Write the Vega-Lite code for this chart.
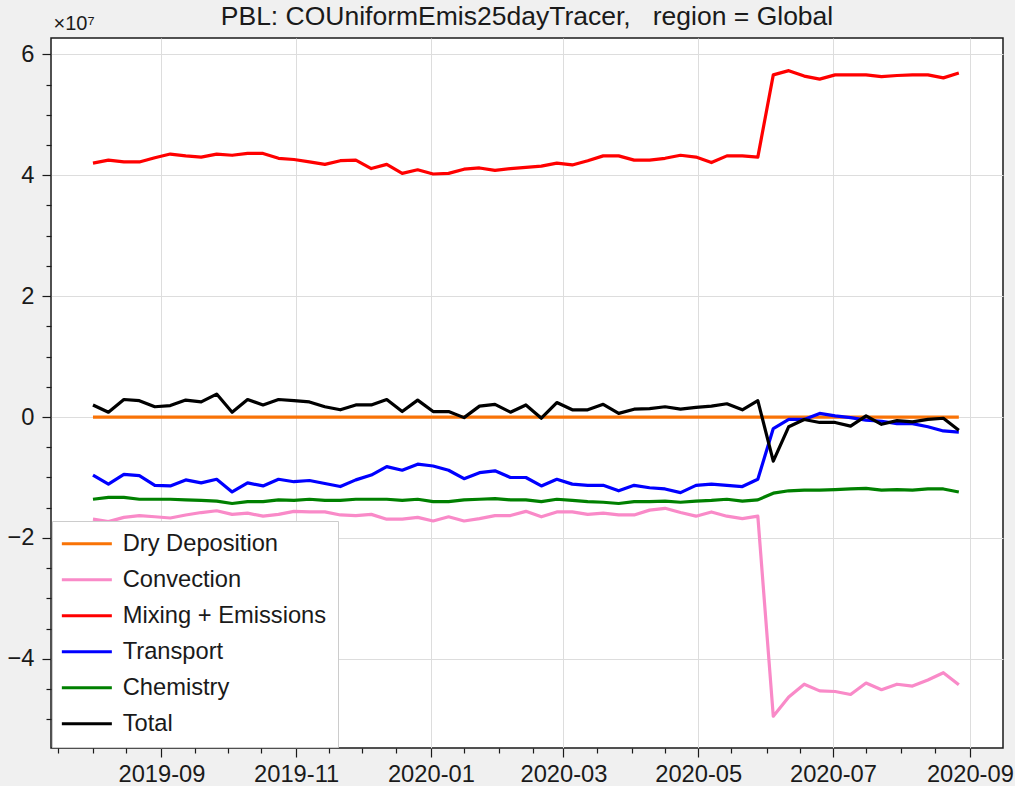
{
  "$schema": "https://vega.github.io/schema/vega-lite/v6.json",
  "width": 952,
  "height": 710,
  "autosize": {"type": "none"},
  "padding": {"left": 51, "top": 38, "right": 12, "bottom": 38},
  "background": "#f0f0f0",
  "title": {
    "text": "PBL: COUniformEmis25dayTracer,\u00a0\u00a0\u00a0region = Global",
    "font": "Liberation Sans",
    "fontSize": 26.5,
    "fontWeight": "normal",
    "color": "#1a1a1a",
    "anchor": "middle",
    "offset": 8,
    "dy": 25
  },
  "data": {
    "values": [
      {"date": "2019-08-01", "Dry Deposition": 0, "Convection": -1.69e7, "Mixing + Emissions": 4.20e7, "Transport": -0.96e7, "Chemistry": -1.36e7, "Total": 0.20e7},
      {"date": "2019-08-08", "Dry Deposition": 0, "Convection": -1.73e7, "Mixing + Emissions": 4.25e7, "Transport": -1.11e7, "Chemistry": -1.33e7, "Total": 0.08e7},
      {"date": "2019-08-15", "Dry Deposition": 0, "Convection": -1.66e7, "Mixing + Emissions": 4.22e7, "Transport": -0.95e7, "Chemistry": -1.33e7, "Total": 0.29e7},
      {"date": "2019-08-22", "Dry Deposition": 0, "Convection": -1.63e7, "Mixing + Emissions": 4.22e7, "Transport": -0.97e7, "Chemistry": -1.36e7, "Total": 0.27e7},
      {"date": "2019-08-29", "Dry Deposition": 0, "Convection": -1.65e7, "Mixing + Emissions": 4.29e7, "Transport": -1.13e7, "Chemistry": -1.36e7, "Total": 0.17e7},
      {"date": "2019-09-05", "Dry Deposition": 0, "Convection": -1.67e7, "Mixing + Emissions": 4.35e7, "Transport": -1.14e7, "Chemistry": -1.36e7, "Total": 0.19e7},
      {"date": "2019-09-12", "Dry Deposition": 0, "Convection": -1.62e7, "Mixing + Emissions": 4.32e7, "Transport": -1.04e7, "Chemistry": -1.37e7, "Total": 0.28e7},
      {"date": "2019-09-19", "Dry Deposition": 0, "Convection": -1.58e7, "Mixing + Emissions": 4.30e7, "Transport": -1.09e7, "Chemistry": -1.38e7, "Total": 0.25e7},
      {"date": "2019-09-26", "Dry Deposition": 0, "Convection": -1.55e7, "Mixing + Emissions": 4.35e7, "Transport": -1.03e7, "Chemistry": -1.39e7, "Total": 0.38e7},
      {"date": "2019-10-03", "Dry Deposition": 0, "Convection": -1.61e7, "Mixing + Emissions": 4.33e7, "Transport": -1.24e7, "Chemistry": -1.43e7, "Total": 0.08e7},
      {"date": "2019-10-10", "Dry Deposition": 0, "Convection": -1.59e7, "Mixing + Emissions": 4.36e7, "Transport": -1.09e7, "Chemistry": -1.40e7, "Total": 0.29e7},
      {"date": "2019-10-17", "Dry Deposition": 0, "Convection": -1.64e7, "Mixing + Emissions": 4.36e7, "Transport": -1.14e7, "Chemistry": -1.40e7, "Total": 0.20e7},
      {"date": "2019-10-24", "Dry Deposition": 0, "Convection": -1.61e7, "Mixing + Emissions": 4.28e7, "Transport": -1.03e7, "Chemistry": -1.37e7, "Total": 0.29e7},
      {"date": "2019-10-31", "Dry Deposition": 0, "Convection": -1.56e7, "Mixing + Emissions": 4.26e7, "Transport": -1.07e7, "Chemistry": -1.38e7, "Total": 0.27e7},
      {"date": "2019-11-07", "Dry Deposition": 0, "Convection": -1.57e7, "Mixing + Emissions": 4.22e7, "Transport": -1.05e7, "Chemistry": -1.36e7, "Total": 0.25e7},
      {"date": "2019-11-14", "Dry Deposition": 0, "Convection": -1.57e7, "Mixing + Emissions": 4.18e7, "Transport": -1.10e7, "Chemistry": -1.38e7, "Total": 0.17e7},
      {"date": "2019-11-21", "Dry Deposition": 0, "Convection": -1.62e7, "Mixing + Emissions": 4.24e7, "Transport": -1.15e7, "Chemistry": -1.38e7, "Total": 0.12e7},
      {"date": "2019-11-28", "Dry Deposition": 0, "Convection": -1.63e7, "Mixing + Emissions": 4.25e7, "Transport": -1.04e7, "Chemistry": -1.36e7, "Total": 0.20e7},
      {"date": "2019-12-05", "Dry Deposition": 0, "Convection": -1.61e7, "Mixing + Emissions": 4.11e7, "Transport": -0.96e7, "Chemistry": -1.36e7, "Total": 0.20e7},
      {"date": "2019-12-12", "Dry Deposition": 0, "Convection": -1.69e7, "Mixing + Emissions": 4.18e7, "Transport": -0.82e7, "Chemistry": -1.36e7, "Total": 0.29e7},
      {"date": "2019-12-19", "Dry Deposition": 0, "Convection": -1.69e7, "Mixing + Emissions": 4.03e7, "Transport": -0.88e7, "Chemistry": -1.38e7, "Total": 0.09e7},
      {"date": "2019-12-26", "Dry Deposition": 0, "Convection": -1.66e7, "Mixing + Emissions": 4.09e7, "Transport": -0.78e7, "Chemistry": -1.36e7, "Total": 0.28e7},
      {"date": "2020-01-02", "Dry Deposition": 0, "Convection": -1.72e7, "Mixing + Emissions": 4.02e7, "Transport": -0.81e7, "Chemistry": -1.40e7, "Total": 0.09e7},
      {"date": "2020-01-09", "Dry Deposition": 0, "Convection": -1.65e7, "Mixing + Emissions": 4.03e7, "Transport": -0.88e7, "Chemistry": -1.40e7, "Total": 0.09e7},
      {"date": "2020-01-16", "Dry Deposition": 0, "Convection": -1.72e7, "Mixing + Emissions": 4.10e7, "Transport": -1.02e7, "Chemistry": -1.37e7, "Total": -0.01e7},
      {"date": "2020-01-23", "Dry Deposition": 0, "Convection": -1.68e7, "Mixing + Emissions": 4.12e7, "Transport": -0.92e7, "Chemistry": -1.36e7, "Total": 0.18e7},
      {"date": "2020-01-30", "Dry Deposition": 0, "Convection": -1.63e7, "Mixing + Emissions": 4.08e7, "Transport": -0.89e7, "Chemistry": -1.35e7, "Total": 0.21e7},
      {"date": "2020-02-06", "Dry Deposition": 0, "Convection": -1.63e7, "Mixing + Emissions": 4.11e7, "Transport": -1.00e7, "Chemistry": -1.37e7, "Total": 0.08e7},
      {"date": "2020-02-13", "Dry Deposition": 0, "Convection": -1.56e7, "Mixing + Emissions": 4.13e7, "Transport": -1.00e7, "Chemistry": -1.37e7, "Total": 0.20e7},
      {"date": "2020-02-20", "Dry Deposition": 0, "Convection": -1.65e7, "Mixing + Emissions": 4.15e7, "Transport": -1.14e7, "Chemistry": -1.40e7, "Total": -0.02e7},
      {"date": "2020-02-27", "Dry Deposition": 0, "Convection": -1.57e7, "Mixing + Emissions": 4.20e7, "Transport": -1.03e7, "Chemistry": -1.36e7, "Total": 0.24e7},
      {"date": "2020-03-05", "Dry Deposition": 0, "Convection": -1.57e7, "Mixing + Emissions": 4.17e7, "Transport": -1.11e7, "Chemistry": -1.38e7, "Total": 0.12e7},
      {"date": "2020-03-12", "Dry Deposition": 0, "Convection": -1.61e7, "Mixing + Emissions": 4.24e7, "Transport": -1.13e7, "Chemistry": -1.40e7, "Total": 0.12e7},
      {"date": "2020-03-19", "Dry Deposition": 0, "Convection": -1.59e7, "Mixing + Emissions": 4.32e7, "Transport": -1.13e7, "Chemistry": -1.41e7, "Total": 0.21e7},
      {"date": "2020-03-26", "Dry Deposition": 0, "Convection": -1.62e7, "Mixing + Emissions": 4.32e7, "Transport": -1.22e7, "Chemistry": -1.43e7, "Total": 0.06e7},
      {"date": "2020-04-02", "Dry Deposition": 0, "Convection": -1.62e7, "Mixing + Emissions": 4.25e7, "Transport": -1.13e7, "Chemistry": -1.40e7, "Total": 0.13e7},
      {"date": "2020-04-09", "Dry Deposition": 0, "Convection": -1.54e7, "Mixing + Emissions": 4.25e7, "Transport": -1.17e7, "Chemistry": -1.40e7, "Total": 0.14e7},
      {"date": "2020-04-16", "Dry Deposition": 0, "Convection": -1.51e7, "Mixing + Emissions": 4.28e7, "Transport": -1.19e7, "Chemistry": -1.39e7, "Total": 0.17e7},
      {"date": "2020-04-23", "Dry Deposition": 0, "Convection": -1.58e7, "Mixing + Emissions": 4.33e7, "Transport": -1.25e7, "Chemistry": -1.41e7, "Total": 0.13e7},
      {"date": "2020-04-30", "Dry Deposition": 0, "Convection": -1.64e7, "Mixing + Emissions": 4.30e7, "Transport": -1.13e7, "Chemistry": -1.39e7, "Total": 0.16e7},
      {"date": "2020-05-07", "Dry Deposition": 0, "Convection": -1.57e7, "Mixing + Emissions": 4.21e7, "Transport": -1.11e7, "Chemistry": -1.38e7, "Total": 0.18e7},
      {"date": "2020-05-14", "Dry Deposition": 0, "Convection": -1.64e7, "Mixing + Emissions": 4.32e7, "Transport": -1.13e7, "Chemistry": -1.36e7, "Total": 0.22e7},
      {"date": "2020-05-21", "Dry Deposition": 0, "Convection": -1.68e7, "Mixing + Emissions": 4.32e7, "Transport": -1.15e7, "Chemistry": -1.39e7, "Total": 0.12e7},
      {"date": "2020-05-28", "Dry Deposition": 0, "Convection": -1.64e7, "Mixing + Emissions": 4.30e7, "Transport": -1.03e7, "Chemistry": -1.37e7, "Total": 0.27e7},
      {"date": "2020-06-04", "Dry Deposition": 0, "Convection": -4.95e7, "Mixing + Emissions": 5.66e7, "Transport": -0.19e7, "Chemistry": -1.26e7, "Total": -0.73e7},
      {"date": "2020-06-11", "Dry Deposition": 0, "Convection": -4.63e7, "Mixing + Emissions": 5.73e7, "Transport": -0.04e7, "Chemistry": -1.22e7, "Total": -0.16e7},
      {"date": "2020-06-18", "Dry Deposition": 0, "Convection": -4.42e7, "Mixing + Emissions": 5.64e7, "Transport": -0.04e7, "Chemistry": -1.21e7, "Total": -0.04e7},
      {"date": "2020-06-25", "Dry Deposition": 0, "Convection": -4.53e7, "Mixing + Emissions": 5.59e7, "Transport": 0.06e7, "Chemistry": -1.21e7, "Total": -0.09e7},
      {"date": "2020-07-02", "Dry Deposition": 0, "Convection": -4.54e7, "Mixing + Emissions": 5.66e7, "Transport": 0.02e7, "Chemistry": -1.20e7, "Total": -0.09e7},
      {"date": "2020-07-09", "Dry Deposition": 0, "Convection": -4.59e7, "Mixing + Emissions": 5.66e7, "Transport": -0.01e7, "Chemistry": -1.19e7, "Total": -0.15e7},
      {"date": "2020-07-16", "Dry Deposition": 0, "Convection": -4.40e7, "Mixing + Emissions": 5.66e7, "Transport": -0.05e7, "Chemistry": -1.18e7, "Total": 0.02e7},
      {"date": "2020-07-23", "Dry Deposition": 0, "Convection": -4.51e7, "Mixing + Emissions": 5.63e7, "Transport": -0.07e7, "Chemistry": -1.21e7, "Total": -0.12e7},
      {"date": "2020-07-30", "Dry Deposition": 0, "Convection": -4.42e7, "Mixing + Emissions": 5.65e7, "Transport": -0.11e7, "Chemistry": -1.20e7, "Total": -0.06e7},
      {"date": "2020-08-06", "Dry Deposition": 0, "Convection": -4.45e7, "Mixing + Emissions": 5.66e7, "Transport": -0.11e7, "Chemistry": -1.21e7, "Total": -0.08e7},
      {"date": "2020-08-13", "Dry Deposition": 0, "Convection": -4.35e7, "Mixing + Emissions": 5.66e7, "Transport": -0.16e7, "Chemistry": -1.19e7, "Total": -0.04e7},
      {"date": "2020-08-20", "Dry Deposition": 0, "Convection": -4.23e7, "Mixing + Emissions": 5.61e7, "Transport": -0.23e7, "Chemistry": -1.19e7, "Total": -0.02e7},
      {"date": "2020-08-27", "Dry Deposition": 0, "Convection": -4.43e7, "Mixing + Emissions": 5.69e7, "Transport": -0.25e7, "Chemistry": -1.24e7, "Total": -0.22e7}
    ]
  },
  "transform": [
    {"fold": ["Dry Deposition", "Convection", "Mixing + Emissions", "Transport", "Chemistry", "Total"], "as": ["series", "value"]}
  ],
  "layer": [
    {
      "mark": {"type": "line", "strokeWidth": 3.2, "strokeJoin": "round"},
      "encoding": {
        "x": {
          "field": "date",
          "type": "temporal",
          "scale": {
            "type": "utc",
            "domain": [
              {"year": 2019, "month": 7, "date": 13, "utc": true},
              {"year": 2020, "month": 9, "date": 16, "utc": true}
            ]
          },
          "axis": {
            "title": null,
            "orient": "bottom",
            "values": [
              {"year": 2019, "month": 9, "date": 1, "utc": true},
              {"year": 2019, "month": 11, "date": 1, "utc": true},
              {"year": 2020, "month": 1, "date": 1, "utc": true},
              {"year": 2020, "month": 3, "date": 1, "utc": true},
              {"year": 2020, "month": 5, "date": 1, "utc": true},
              {"year": 2020, "month": 7, "date": 1, "utc": true},
              {"year": 2020, "month": 9, "date": 1, "utc": true}
            ],
            "labelExpr": "utcFormat(datum.value, '%Y-%m')",
            "labelOverlap": false,
            "labelFlush": false,
            "labelPadding": 5,
            "tickSize": 9,
            "grid": true
          }
        },
        "y": {
          "field": "value",
          "type": "quantitative",
          "scale": {"domain": [-5.475e7, 6.27e7], "nice": false, "zero": false},
          "axis": {
            "title": "×10⁷",
            "orient": "left",
            "titleAngle": 0,
            "titleAlign": "left",
            "titleBaseline": "alphabetic",
            "titleX": 2,
            "titleY": -9,
            "titleFont": "Liberation Sans",
            "titleFontSize": 20,
            "titleFontWeight": "normal",
            "titleColor": "#1a1a1a",
            "values": [-4e7, -2e7, 0, 2e7, 4e7, 6e7],
            "labelExpr": "(datum.value < 0 ? '−' : '') + format(abs(datum.value) / 10000000, 'd')",
            "labelOverlap": false,
            "labelFlush": false,
            "labelPadding": 8,
            "tickSize": 9,
            "grid": true
          }
        },
        "color": {
          "field": "series",
          "type": "nominal",
          "scale": {
            "domain": ["Dry Deposition", "Convection", "Mixing + Emissions", "Transport", "Chemistry", "Total"],
            "range": ["#f97306", "#f98ac8", "#ff0000", "#0000ff", "#008000", "#000000"]
          },
          "legend": {
            "title": null,
            "orient": "bottom-left",
            "offset": 1,
            "padding": 11,
            "fillColor": "white",
            "strokeColor": "#cccccc",
            "cornerRadius": 0,
            "symbolType": "M-1,0H4",
            "symbolSize": 400,
            "symbolStrokeWidth": 3,
            "symbolOffset": -3,
            "labelFont": "Liberation Sans",
            "labelFontSize": 23.7,
            "labelColor": "#1a1a1a",
            "labelOffset": 39,
            "labelLimit": 400,
            "rowPadding": 11
          }
        }
      }
    },
    {
      "mark": {"type": "point", "opacity": 0, "size": 1},
      "encoding": {
        "x": {
          "field": "date",
          "type": "temporal",
          "axis": {
            "title": null,
            "orient": "bottom",
            "values": [
              {"year": 2019, "month": 7, "date": 16, "utc": true},
              {"year": 2019, "month": 8, "date": 1, "utc": true},
              {"year": 2019, "month": 8, "date": 16, "utc": true},
              {"year": 2019, "month": 9, "date": 16, "utc": true},
              {"year": 2019, "month": 10, "date": 1, "utc": true},
              {"year": 2019, "month": 10, "date": 16, "utc": true},
              {"year": 2019, "month": 11, "date": 16, "utc": true},
              {"year": 2019, "month": 12, "date": 1, "utc": true},
              {"year": 2019, "month": 12, "date": 16, "utc": true},
              {"year": 2020, "month": 1, "date": 16, "utc": true},
              {"year": 2020, "month": 2, "date": 1, "utc": true},
              {"year": 2020, "month": 2, "date": 16, "utc": true},
              {"year": 2020, "month": 3, "date": 16, "utc": true},
              {"year": 2020, "month": 4, "date": 1, "utc": true},
              {"year": 2020, "month": 4, "date": 16, "utc": true},
              {"year": 2020, "month": 5, "date": 16, "utc": true},
              {"year": 2020, "month": 6, "date": 1, "utc": true},
              {"year": 2020, "month": 6, "date": 16, "utc": true},
              {"year": 2020, "month": 7, "date": 16, "utc": true},
              {"year": 2020, "month": 8, "date": 1, "utc": true},
              {"year": 2020, "month": 8, "date": 16, "utc": true}
            ],
            "labels": false,
            "grid": false,
            "tickSize": 5
          }
        },
        "y": {
          "field": "value",
          "type": "quantitative",
          "axis": {
            "title": null,
            "orient": "left",
            "values": [-5e7, -4.5e7, -3.5e7, -3e7, -2.5e7, -1.5e7, -1e7, -0.5e7, 0.5e7, 1e7, 1.5e7, 2.5e7, 3e7, 3.5e7, 4.5e7, 5e7, 5.5e7],
            "labels": false,
            "grid": false,
            "tickSize": 5
          }
        }
      }
    }
  ],
  "resolve": {"axis": {"x": "independent", "y": "independent"}},
  "config": {
    "view": {"stroke": "#1a1a1a", "strokeWidth": 1.5, "fill": "white"},
    "axis": {
      "domain": false,
      "labelFont": "Liberation Sans",
      "labelFontSize": 23.7,
      "labelColor": "#1a1a1a",
      "tickColor": "#1a1a1a",
      "tickWidth": 1.2,
      "gridColor": "#dddddd",
      "gridWidth": 1
    }
  }
}
